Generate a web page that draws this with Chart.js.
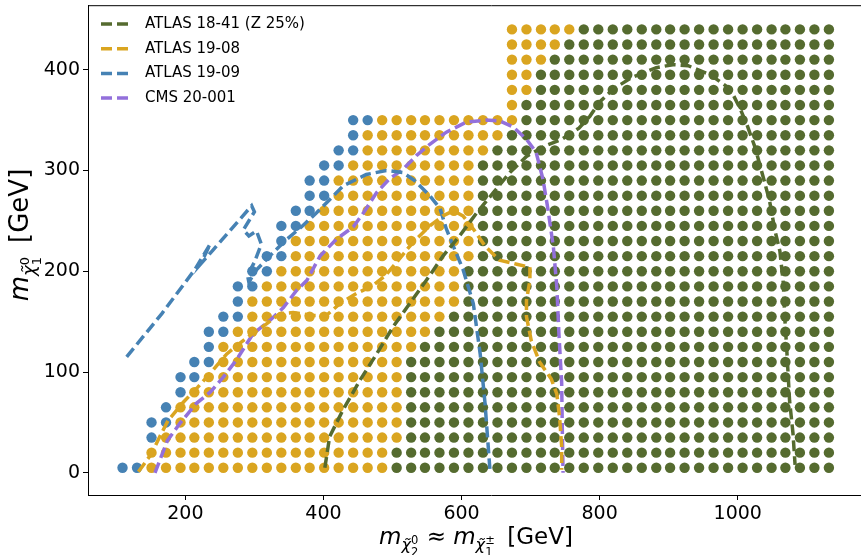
<!DOCTYPE html>
<html>
<head>
<meta charset="utf-8">
<script src="https://cdn.jsdelivr.net/npm/chart.js@4.4.1/dist/chart.umd.min.js"></script>
<style>
  html, body { margin: 0; padding: 0; background: #fff; overflow: hidden; }
  #frame { width: 861px; height: 555px; overflow: hidden; }
</style>
</head>
<body>
<div id="frame"><canvas id="limits" width="900" height="555"></canvas></div>
<script>
// grid of mass points (GeV)
const COLS = [109, 130, 151, 172, 193, 213, 234, 255, 276, 297, 318, 339, 360, 380, 401, 422, 443, 464, 485, 506,
              527, 547, 568, 589, 610, 631, 652, 673, 694, 715, 735, 756, 777, 798, 819, 840, 861, 882, 902, 923,
              944, 965, 986, 1007, 1028, 1049, 1069, 1090, 1111, 1132];
const ROWS = [5, 20, 35, 50, 65, 80, 95, 110, 125, 140, 155, 170, 185, 200, 215, 230, 245, 260, 275, 290,
              305, 320, 335, 350, 365, 380, 395, 410, 425, 440];

// per row: first column present, how many excluded by ATLAS 19-09, last column excluded by ATLAS 19-08
const ROW_START      = [0, 2, 2, 2, 3, 4, 4, 5, 6, 6, 7, 8, 8, 9, 10, 11, 11, 12, 13, 13, 14, 15, 16, 16, 27, 27, 27, 27, 27, 27];
const ROW_BLUE       = [2, 0, 1, 2, 1, 1, 2, 2, 1, 2, 2, 1, 2, 2, 2, 1, 2, 2, 2, 2, 2, 2, 1, 2, 0, 0, 0, 0, 0, 0];
const ROW_YELLOW_END = [18, 18, 19, 19, 19, 19, 19, 19, 20, 21, 22, 23, 23, 23, 24, 24, 24, 24, 24, 24, 24, 25, 26, 27, 27, 28, 28, 29, 30, 31];

const X_TICKS = [200, 400, 600, 800, 1000];
const Y_TICKS = [0, 100, 200, 300, 400];

// exclusion contours
const ATLAS_1841 = [[402,5],[409,36],[428,62],[453,92],[477,118],[501,145],[525,168],[549,191],[573,215],[597,235],
  [622,258],[646,278],[670,298],[694,314],[720,324],[745,331],[770,342],[786,354],[800,368],[820,381],[846,392],
  [882,402],[906,405],[928,404],[960,395],[989,381],[1003,362],[1013,346],[1025,323],[1037,293],[1046,270],
  [1054,240],[1061,220],[1066,188],[1068,155],[1071,122],[1075,72],[1080,39],[1083,8]];
const ATLAS_1908 = [[132,1],[151,19],[163,36],[175,52],[197,70],[218,85],[240,102],[260,118],[274,126],[293,136],
  [318,148],[337,158],[356,159],[385,156],[404,156],[424,168],[448,178],[472,186],[490,196],[506,209],[530,229],
  [554,245],[573,255],[588,260],[602,255],[617,242],[634,225],[655,211],[680,207],[699,204],[699,191],[694,171],
  [694,155],[701,131],[713,110],[730,93],[738,78],[742,55],[745,26],[745,3]];
const ATLAS_1909 = [[115,115],[166,158],[214,202],[236,227],[222,207],[240,221],[296,265],[300,259],[284,241],
  [292,235],[303,240],[310,227],[300,209],[290,196],[292,189],[301,200],[325,217],[344,230],[368,244],[390,258],
  [429,285],[462,296],[491,300],[515,298],[532,290],[554,275],[569,262],[578,242],[588,225],[602,202],[617,168],
  [627,118],[634,69],[641,4]];
const CMS_20001 = [[156,0],[174,32],[192,49],[216,69],[236,80],[255,95],[274,112],[298,138],[322,151],[342,164],
  [361,181],[376,191],[395,215],[419,232],[443,244],[458,258],[477,278],[496,292],[515,301],[535,315],[554,326],
  [578,338],[607,348],[636,350],[656,349],[675,343],[694,331],[708,318],[718,291],[725,262],[733,224],[738,184],
  [741,138],[745,89],[746,39],[747,0]];

const X_MIN = 59;          // left edge of the axes
const PX_PER_GEV = 0.6905; // horizontal scale of the original figure

const GREEN = '#556B2F', GOLD = '#DAA520', BLUE = '#4682B4', PURPLE = '#9370DB';
const FONT = "'DejaVu Sans', sans-serif";

const bluePts = [], goldPts = [], greenPts = [];
ROWS.forEach((y, r) => {
    for (let c = ROW_START[r]; c < COLS.length; c++) {
        const p = { x: COLS[c], y: y };
        if (c < ROW_START[r] + ROW_BLUE[r]) bluePts.push(p);
        else if (c <= ROW_YELLOW_END[r]) goldPts.push(p);
        else greenPts.push(p);
    }
});

const toXY = arr => arr.map(([x, y]) => ({ x, y }));
const dots = (data, color) => ({
    data, backgroundColor: color, borderWidth: 0, pointRadius: 5.2, order: 2, inLegend: false
});
const contour = (label, data, color) => ({
    label, data: toXY(data), borderColor: color, backgroundColor: color, showLine: true,
    borderWidth: 3.5, borderDash: [11, 5], pointRadius: 0, fill: false, tension: 0, order: 1, inLegend: true
});

// draws a mathtext-like label; parts: {t, k (size factor), it, dy (factor)} or {sup, sub}
function mathWidth(ctx, parts, S) {
    let w = 0;
    parts.forEach(p => {
        if (p.sup !== undefined) {
            ctx.font = `${0.5 * S}px ${FONT}`;
            w += Math.max(ctx.measureText(p.sup).width, ctx.measureText(p.sub).width) + 1;
        } else {
            ctx.font = `${p.it ? 'italic ' : ''}${(p.k || 1) * S}px ${FONT}`;
            w += ctx.measureText(p.t).width;
        }
    });
    return w;
}
function drawMath(ctx, parts, S, cx, baseY) {
    let x = cx - mathWidth(ctx, parts, S) / 2;
    ctx.textAlign = 'left';
    ctx.textBaseline = 'alphabetic';
    ctx.fillStyle = '#000';
    parts.forEach(p => {
        if (p.sup !== undefined) {
            ctx.font = `${0.5 * S}px ${FONT}`;
            ctx.fillText(p.sup, x, baseY + 0.02 * S);
            ctx.fillText(p.sub, x, baseY + 0.5 * S);
            x += Math.max(ctx.measureText(p.sup).width, ctx.measureText(p.sub).width) + 1;
        } else {
            ctx.font = `${p.it ? 'italic ' : ''}${(p.k || 1) * S}px ${FONT}`;
            ctx.fillText(p.t, x, baseY + (p.dy || 0) * S);
            x += ctx.measureText(p.t).width;
        }
    });
}

const CHI = '\u03C7\u0303';
const xTitle = [
    { t: 'm', it: true }, { t: CHI, it: true, k: 0.7, dy: 0.28 }, { sup: '0', sub: '2' },
    { t: ' \u2248 ' }, { t: 'm', it: true }, { t: CHI, it: true, k: 0.7, dy: 0.28 }, { sup: '\u00B1', sub: '1' },
    { t: '\u2002[GeV]' }
];
const yTitle = [
    { t: 'm', it: true }, { t: CHI, it: true, k: 0.7, dy: 0.28 }, { sup: '0', sub: '1' }, { t: '\u2002[GeV]' }
];

const decorations = {
    id: 'decorations',
    afterDraw(chart) {
        const { ctx, chartArea: a } = chart;
        ctx.save();
        // top spine
        ctx.strokeStyle = '#000';
        ctx.lineWidth = 1;
        ctx.beginPath();
        ctx.moveTo(a.left, a.top + 0.5);
        ctx.lineTo(a.right, a.top + 0.5);
        ctx.stroke();

        // legend
        let ly = 24;
        chart.data.datasets.filter(d => d.inLegend).forEach(d => {
            ctx.strokeStyle = d.borderColor;
            ctx.lineWidth = 3.5;
            ctx.setLineDash([11, 5]);
            ctx.beginPath();
            ctx.moveTo(101, ly);
            ctx.lineTo(132, ly);
            ctx.stroke();
            ctx.setLineDash([]);
            ctx.fillStyle = '#000';
            ctx.font = `15px ${FONT}`;
            ctx.textAlign = 'left';
            ctx.textBaseline = 'middle';
            ctx.fillText(d.label, 145, ly);
            ly += 24.7;
        });

        // axis titles
        drawMath(ctx, xTitle, 23, 476, 544);
        ctx.translate(28, 235);
        ctx.rotate(-Math.PI / 2);
        drawMath(ctx, yTitle, 26, 0, 0);
        ctx.restore();
    }
};

const axisLook = {
    grid: { drawOnChartArea: false, drawTicks: true, tickLength: 5, color: '#000', lineWidth: 1 },
    border: { display: true, color: '#000', width: 1 },
    ticks: { color: '#000', padding: 3, font: { family: FONT, size: 19 }, callback: v => String(v) }
};

new Chart(document.getElementById('limits'), {
    type: 'scatter',
    data: {
        datasets: [
            dots(bluePts, BLUE),
            dots(goldPts, GOLD),
            dots(greenPts, GREEN),
            contour('ATLAS 18-41 (Z 25%)', ATLAS_1841, GREEN),
            contour('ATLAS 19-08', ATLAS_1908, GOLD),
            contour('ATLAS 19-09', ATLAS_1909, BLUE),
            contour('CMS 20-001', CMS_20001, PURPLE)
        ]
    },
    options: {
        responsive: false,
        animation: false,
        devicePixelRatio: 1,
        layout: { padding: { top: 5, left: 0, right: 0, bottom: 0 } },
        plugins: { legend: { display: false }, tooltip: { enabled: false } },
        scales: {
            x: {
                type: 'linear', min: X_MIN, max: 1230,
                ...axisLook,
                afterBuildTicks: s => { s.ticks = X_TICKS.map(v => ({ value: v })); },
                // keep the original px/GeV for whatever width the axis finally gets
                afterFit: s => {
                    s.height = 60; s.paddingLeft = 0; s.paddingRight = 0;
                    s.min = X_MIN; s.max = X_MIN + s.width / PX_PER_GEV;
                }
            },
            y: {
                type: 'linear', min: -22, max: 464,
                ...axisLook,
                afterBuildTicks: s => { s.ticks = Y_TICKS.map(v => ({ value: v })); },
                afterFit: s => { s.width = 88; s.paddingTop = 0; s.paddingBottom = 0; }
            }
        }
    },
    plugins: [decorations]
});
</script>
</body>
</html>
